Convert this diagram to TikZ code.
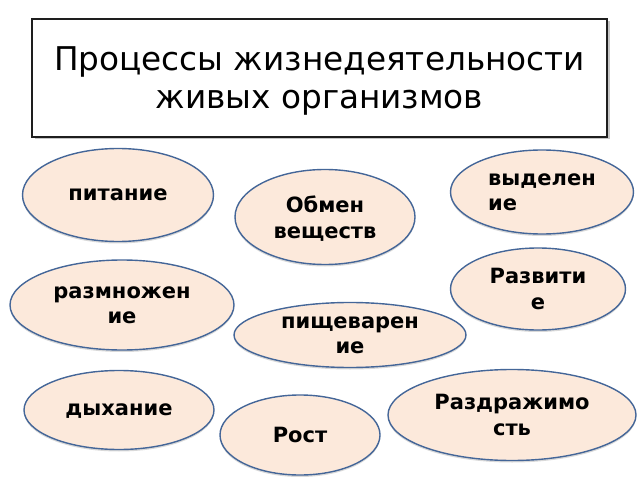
\documentclass[tikz,border=0pt]{standalone}
\usepackage{fontspec}
\setmainfont{DejaVu Sans}
\usetikzlibrary{shapes.geometric,shadows}
\definecolor{procline}{RGB}{68,102,152}
\definecolor{procfill}{RGB}{252,233,219}
\definecolor{titleline}{RGB}{30,30,30}
\tikzset{
  titlebox/.style={draw=titleline, line width=1.4pt, fill=white,
    minimum width=575, minimum height=118, align=center, text depth=0pt,
    font=\fontsize{32.7}{38}\selectfont,
    drop shadow={shadow xshift=2.5pt, shadow yshift=-2.5pt, opacity=0.45}},
  proc/.style={ellipse, draw=procline, line width=1.4pt, fill=procfill,
    inner sep=0pt, align=center, text depth=0pt,
    font=\fontsize{21}{25.5}\selectfont\bfseries,
    drop shadow={shadow xshift=0pt, shadow yshift=-2pt, opacity=0.3}}
}
\begin{document}
\begin{tikzpicture}[x=1pt,y=1pt]
  \useasboundingbox (0,0) rectangle (640,480);
  \draw
    (319.5,402) node[titlebox] (title) {Процессы жизнедеятельности\\живых организмов}
    (118,285) node[proc, minimum width=191, minimum height=93] (pitanie) {питание}
    (325,263) node[proc, minimum width=180, minimum height=95] (obmen) {Обмен\\веществ}
    (542,288) node[proc, minimum width=183, minimum height=84, align=left] (vydelenie) {выделен\\ие}
    (538,191) node[proc, minimum width=175, minimum height=82] (razvitie) {Развити\\е}
    (122,175) node[proc, minimum width=224, minimum height=90] (razmnozhenie) {размножен\\ие}
    (350,145) node[proc, minimum width=232, minimum height=65] (pishchevarenie) {пищеварен\\ие}
    (119,70) node[proc, minimum width=190, minimum height=79] (dykhanie) {дыхание}
    (300,45) node[proc, minimum width=160, minimum height=80] (rost) {Рост}
    (512,65) node[proc, minimum width=248, minimum height=91] (razdrazhimost) {Раздражимо\\сть};
\end{tikzpicture}
\end{document}
